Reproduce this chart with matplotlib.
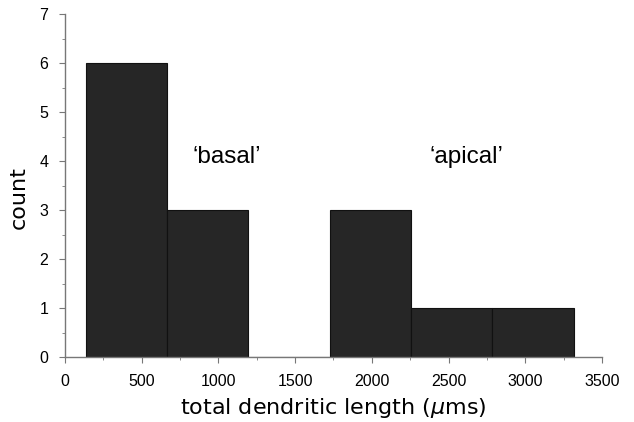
import matplotlib
matplotlib.use("Agg")
import matplotlib.pyplot as plt
from matplotlib.ticker import MultipleLocator

bin_edges = [135, 665, 1195, 1725, 2255, 2785, 3315]
counts = [6, 3, 0, 3, 1, 1]
x_ticks = [0, 500, 1000, 1500, 2000, 2500, 3000, 3500]
y_ticks = [0, 1, 2, 3, 4, 5, 6, 7]
labels = [("\u2018basal\u2019", 1057, 4.08), ("\u2018apical\u2019", 2616, 4.08)]

plt.rcParams['font.family'] = ['Liberation Sans', 'DejaVu Sans']
fig = plt.figure(figsize=(6.34, 4.22), dpi=100)
ax = fig.add_axes([0.1025, 0.154, 0.847, 0.8128])

lefts = bin_edges[:-1]
widths = [b - a for a, b in zip(bin_edges[:-1], bin_edges[1:])]
ax.bar(lefts, counts, width=widths, align='edge', color='#262626',
       edgecolor='#111111', linewidth=0.8)

ax.set_xlim(0, 3500)
ax.set_ylim(0, 7)
ax.set_xticks(x_ticks)
ax.set_yticks(y_ticks)
ax.xaxis.set_minor_locator(MultipleLocator(250))
ax.yaxis.set_minor_locator(MultipleLocator(0.5))
for s in ['top', 'right']:
    ax.spines[s].set_visible(False)
for s in ['left', 'bottom']:
    ax.spines[s].set_color('#777777')
    ax.spines[s].set_linewidth(1.0)
ax.tick_params(which='major', direction='out', length=4, color='#777777',
               labelsize=11.5, pad=8)
ax.tick_params(which='minor', direction='out', length=2.5, color='#777777')

ax.set_xlabel('total dendritic length ($\\mu$ms)', fontsize=16, labelpad=5,
              family=['DejaVu Sans'])
ax.set_ylabel('count', fontsize=16, labelpad=4, family=['DejaVu Sans'])
ax.yaxis.set_label_coords(-0.068, 0.466)

for t, x, y in labels:
    ax.text(x, y, t, fontsize=17.5, ha='center', va='center')

fig.savefig('out.png', dpi=100)
